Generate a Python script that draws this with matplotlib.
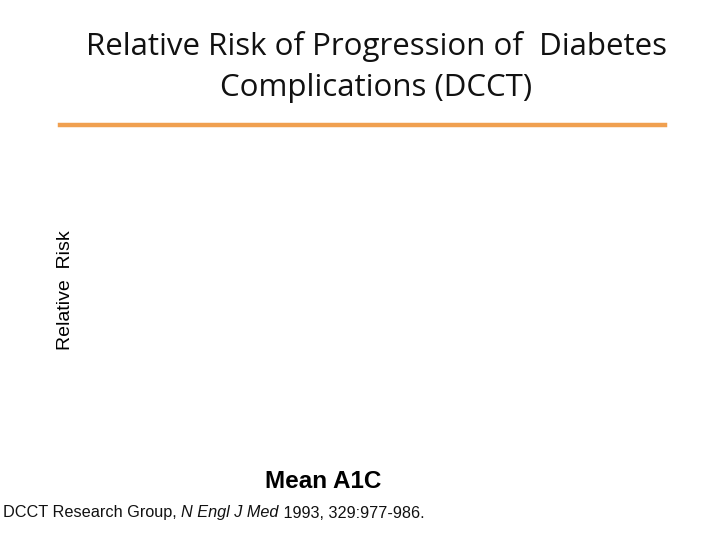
import matplotlib.pyplot as plt

# Slide texts (the chart area itself is empty in the reference)
title_lines = ["Relative Risk of Progression of  Diabetes", "Complications (DCCT)"]
y_label = "Relative  Risk"
x_label = "Mean A1C"
cite_parts = [("DCCT Research Group, ", "normal"),
              ("N Engl J Med", "italic"),
              (" 1993, 329:977-986.", "normal")]

fig = plt.figure(figsize=(7.2, 5.4), dpi=100)

# Title
fig.text(0.523, 1 - 47 / 540, title_lines[0], ha="center", va="center",
         fontsize=22.5, family=["Open Sans", "DejaVu Sans"], color="#111111")
fig.text(0.523, 1 - 88 / 540, title_lines[1], ha="center", va="center",
         fontsize=22.5, family=["Open Sans", "DejaVu Sans"], color="#111111")

# Orange rule under the title
fig.add_artist(plt.Line2D([60 / 720, 665 / 720], [1 - 125 / 540, 1 - 125 / 540],
                          color="#F0A050", lw=3.2, transform=fig.transFigure))

# Empty plot area
ax = fig.add_axes([0.15, 0.15, 0.75, 0.6])
for s in ax.spines.values():
    s.set_visible(False)
ax.set_xticks([])
ax.set_yticks([])

ax.set_ylabel(y_label, fontsize=14, family="Liberation Sans", va="center")
ax.yaxis.set_label_coords((65 - 108) / 540, (1 - 290 / 540 - 0.15) / 0.6)
ax.set_xlabel(x_label, fontsize=17.5, fontweight="bold", family="Liberation Sans", va="center")
ax.xaxis.set_label_coords((323 - 108) / 540, (1 - 482 / 540 - 0.15) / 0.6)

# Citation with italic journal name
x0 = 3 / 720
y0 = 1 - 513 / 540
renderer = fig.canvas.get_renderer()
for txt, style in cite_parts:
    t = fig.text(x0, y0, txt, ha="left", va="center", fontsize=11.7,
                 style=style, family="Liberation Sans", color="#111111")
    bb = t.get_window_extent(renderer=renderer)
    x0 += bb.width / fig.bbox.width

fig.savefig("out.png", dpi=100)
